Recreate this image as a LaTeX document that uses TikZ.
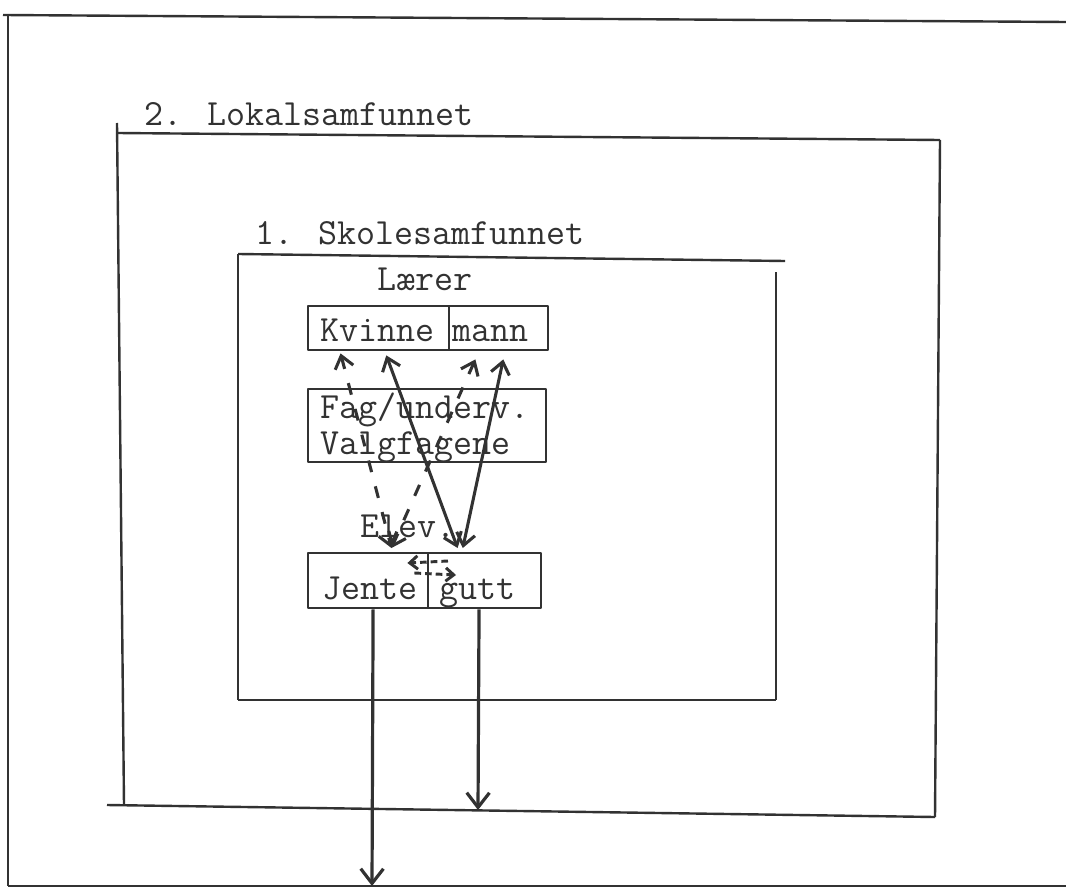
\documentclass[tikz,border=0pt]{standalone}
\usepackage{fontspec}
\usetikzlibrary{arrows.meta,calc}
\definecolor{ink}{RGB}{50,50,50}
\newcommand\pxu{*0.75pt}
\begin{document}
\begin{tikzpicture}[x=0.75pt,y=-0.75pt,line join=round,
  frame/.style={draw=ink,line width=1.8pt},
  box/.style={draw=ink,line width=1.8pt,inner sep=0pt,anchor=north west},
  txt/.style={inner sep=0pt,anchor=base west,font=\ttfamily\fontsize{27.7}{30}\selectfont,text=ink},
  arr/.style={draw=ink,line width=2.4pt,-{Straight Barb[length=11pt,width=17pt]}},
  dbl/.style={draw=ink,line width=2.3pt,{Straight Barb[length=9pt,width=14pt]}-{Straight Barb[length=9pt,width=14pt]}},
  one/.style={draw=ink,line width=2.2pt,-{Straight Barb[length=6pt,width=10pt]}},
  dsh/.style={dash pattern=on 9pt off 11pt},
  sdsh/.style={dash pattern=on 5pt off 3pt}]
\useasboundingbox (0,0) rectangle (1066,895);

% outer frame
\draw[frame] (3,15) -- (1066,22);
\draw[frame] (8,15) -- (8,886);
\draw[frame] (8,886) -- (1066,886);
% box 2
\draw[frame] (117,123) -- (124,805);
\draw[frame] (117,133) -- (940,140);
\draw[frame] (940,140) -- (935,817);
\draw[frame] (107,805) -- (935,817);
% box 1
\draw[frame] (238,254) -- (238,700);
\draw[frame] (238,254) -- (785,261);
\draw[frame] (776,272) -- (776,700);
\draw[frame] (238,700) -- (776,700);

% labels
\node[txt] (t2) at (144,126) {2. Lokalsamfunnet};
\node[txt] (t1) at (255,244) {1. Skolesamfunnet};
\node[txt] (lae) at (377,290) {Lærer};

% inner boxes
\node[box,minimum width=141\pxu,minimum height=44\pxu] (kv) at (307,305) {};
\node[box,minimum width=99\pxu,minimum height=44\pxu] (mn) at (448,305) {};
\node[box,minimum width=238\pxu,minimum height=73\pxu] (fag) at (307,388) {};
\node[box,minimum width=120\pxu,minimum height=55\pxu] (je) at (307,552) {};
\node[box,minimum width=113\pxu,minimum height=55\pxu] (gu) at (427,552) {};

\node[txt] (kvt) at (320,341) {Kvinne};
\node[txt] (mnt) at (452,341) {mann};
\node[txt,align=left,font=\ttfamily\fontsize{27.7}{27}\selectfont] (fagt) at (320,454) {Fag/underv.\\Valgfagene};
\node[txt] (elev) at (360,537) {Elev.};
\node[txt] (jet) at (322,599) {Jente};
\node[txt] (gut) at (439,599) {gutt};

% connectors
\coordinate (kvA) at ($(kv.south west)!0.234!(kv.south east)+(0,2)$);
\coordinate (kvB) at ($(kv.south west)!0.553!(kv.south east)+(0,4)$);
\coordinate (mnA) at ($(mn.south west)!0.27!(mn.south east)+(0,8)$);
\coordinate (mnB) at ($(mn.south west)!0.545!(mn.south east)+(0,8)$);
\coordinate (jeT) at ($(je.north west)!0.69!(je.north east)+(0,-4)$);
\coordinate (guA) at ($(gu.north west)!0.265!(gu.north east)+(0,-4)$);
\coordinate (guB) at ($(gu.north west)!0.31!(gu.north east)+(0,-4)$);

\draw[dbl,dsh] (kvA) -- (jeT);
\draw[dbl,dsh] (mnA) -- (jeT);
\draw[dbl] (kvB) -- (guA);
\draw[dbl] (mnB) -- (guB);

\draw[one,sdsh] ($(gu.north west)+(21,9)$) -- ($(je.north east)+(-22,11)$);
\draw[one,sdsh] ($(je.north east)+(-15,21)$) -- ($(gu.north west)+(29,23)$);

\coordinate (outB) at (372,886);
\coordinate (boxB) at (478,810);
\draw[arr] ($(je.south west)!0.54!(je.south east)$) -- (outB);
\draw[arr] ($(gu.south west)!0.451!(gu.south east)$) -- (boxB);
\end{tikzpicture}
\end{document}
